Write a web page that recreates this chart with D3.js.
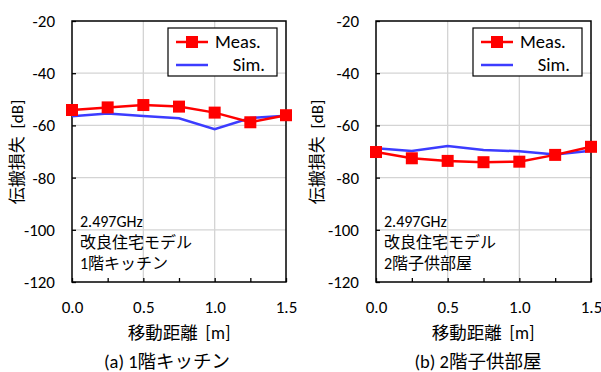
<!DOCTYPE html>
<html>
<head>
<meta charset="utf-8">
<script src="https://cdn.jsdelivr.net/npm/d3@7"></script>
<style>
  body { margin: 0; background: #fff; }
  text { font-family: Carlito, "Noto Sans CJK JP", sans-serif; fill: #000; }
</style>
</head>
<body>
<div id="chart"></div>
<script>
// distance [m]
var distances = [0, 0.25, 0.5, 0.75, 1.0, 1.25, 1.5];
// panel (a) 1F kitchen
var measA = [-54.1, -53.1, -52.2, -52.8, -55.1, -58.8, -56.1];
var simA = [-56.5, -55.4, -56.4, -57.3, -61.5, -57.2, -56.3];
// panel (b) 2F child room
var measB = [-70.2, -72.6, -73.6, -74.1, -73.9, -71.3, -68.2];
var simB = [-68.8, -69.8, -67.9, -69.4, -69.9, -71.1, -69.7];

var yTicks = [-20, -40, -60, -80, -100, -120];
var xTicks = [0, 0.5, 1.0, 1.5];
var xMinor = [0.25, 0.75, 1.25];

var panels = [
  { meas: measA, sim: simA, left: 72, right: 286, note: ["2.497GHz", "改良住宅モデル", "1階キッチン"],
    caption: "(a) 1階キッチン", titleX: 17, xTitleX: 179, capX: 167 },
  { meas: measB, sim: simB, left: 376, right: 591, note: ["2.497GHz", "改良住宅モデル", "2階子供部屋"],
    caption: "(b) 2階子供部屋", titleX: 317, xTitleX: 483, capX: 478 }
];

var w = 601, h = 372;
var plotTop = 21, plotBottom = 282;

var svg = d3.select("#chart").append("svg").attr("width", w).attr("height", h);

panels.forEach(function (p) {
  var x = d3.scaleLinear().domain([0, 1.5]).range([p.left, p.right]);
  var y = d3.scaleLinear().domain([-120, -20]).range([plotBottom, plotTop]);
  var g = svg.append("g");

  // grid
  g.selectAll(".hg").data(yTicks.slice(1, 5)).enter().append("line")
    .attr("x1", p.left).attr("x2", p.right)
    .attr("y1", function (d) { return y(d); }).attr("y2", function (d) { return y(d); })
    .attr("stroke", "#d4d4d4").attr("stroke-width", 1.3);
  g.selectAll(".vg").data([0.5, 1.0]).enter().append("line")
    .attr("x1", function (d) { return x(d); }).attr("x2", function (d) { return x(d); })
    .attr("y1", plotTop).attr("y2", plotBottom)
    .attr("stroke", "#d4d4d4").attr("stroke-width", 1.3);

  // axes with inward ticks (plain hyphen minus like the original)
  var yAxis = d3.axisLeft(y).tickValues(yTicks).tickSize(-4).tickPadding(17)
    .tickFormat(function (d) { return String(d); });
  var xAxis = d3.axisBottom(x).tickValues(xTicks.concat(xMinor)).tickSize(-4).tickPadding(19)
    .tickFormat(function (d) { return xTicks.indexOf(d) >= 0 ? d.toFixed(1) : ""; });

  var ya = g.append("g").attr("transform", "translate(" + p.left + ",0)").call(yAxis);
  var xa = g.append("g").attr("transform", "translate(0," + plotBottom + ")").call(xAxis);
  [ya, xa].forEach(function (a) {
    a.select(".domain").remove();
    a.selectAll("line").attr("stroke", "#000").attr("stroke-width", 1.3);
    a.selectAll("text").style("font-size", "17px").attr("fill", "#000");
  });

  // frame
  g.append("rect").attr("x", p.left).attr("y", plotTop)
    .attr("width", p.right - p.left).attr("height", plotBottom - plotTop)
    .attr("fill", "none").attr("stroke", "#000").attr("stroke-width", 1.5);

  var line = d3.line().x(function (d, i) { return x(distances[i]); }).y(function (d) { return y(d); });

  g.append("path").datum(p.sim).attr("d", line)
    .attr("fill", "none").attr("stroke", "#3c3cff").attr("stroke-width", 2.5);
  g.append("path").datum(p.meas).attr("d", line)
    .attr("fill", "none").attr("stroke", "#ff0000").attr("stroke-width", 2.5);
  g.selectAll(".mk").data(p.meas).enter().append("rect")
    .attr("x", function (d, i) { return x(distances[i]) - 6; })
    .attr("y", function (d) { return y(d) - 6; })
    .attr("width", 12).attr("height", 12).attr("fill", "#ff0000");

  // legend
  var lx = p.right - 118, ly = 28;
  var lg = g.append("g").attr("transform", "translate(" + lx + "," + ly + ")");
  lg.append("rect").attr("width", 109).attr("height", 48)
    .attr("fill", "#fff").attr("stroke", "#000").attr("stroke-width", 1.2);
  lg.append("line").attr("x1", 8).attr("x2", 40).attr("y1", 14).attr("y2", 14)
    .attr("stroke", "#ff0000").attr("stroke-width", 2.5);
  lg.append("rect").attr("x", 18).attr("y", 8).attr("width", 12).attr("height", 12).attr("fill", "#ff0000");
  lg.append("text").attr("x", 47).attr("y", 14).attr("dy", "0.35em").style("font-size", "18.5px").text("Meas.");
  lg.append("line").attr("x1", 8).attr("x2", 40).attr("y1", 37).attr("y2", 37)
    .attr("stroke", "#3c3cff").attr("stroke-width", 2.5);
  lg.append("text").attr("x", 97).attr("y", 37).attr("dy", "0.35em").attr("text-anchor", "end")
    .style("font-size", "18.5px").text("Sim.");

  // note
  g.selectAll(".note").data(p.note).enter().append("text")
    .attr("x", p.left + 8).attr("y", function (d, i) { return 221 + i * 21; })
    .attr("dy", "0.35em").style("font-size", "16px").text(function (d) { return d; });

  // titles
  g.append("text").attr("transform", "translate(" + p.titleX + "," + 152 + ") rotate(-90)")
    .attr("text-anchor", "middle").attr("dy", "0.35em").style("font-size", "17px")
    .attr("xml:space", "preserve").style("white-space", "pre").text("伝搬損失  [dB]");
  g.append("text").attr("x", p.xTitleX).attr("y", 333).attr("dy", "0.35em")
    .attr("text-anchor", "middle").style("font-size", "17.5px")
    .style("white-space", "pre").text("移動距離  [m]");
  g.append("text").attr("x", p.capX).attr("y", 362).attr("dy", "0.35em")
    .attr("text-anchor", "middle").style("font-size", "18.5px")
    .style("white-space", "pre").text(p.caption);
});
</script>
</body>
</html>
